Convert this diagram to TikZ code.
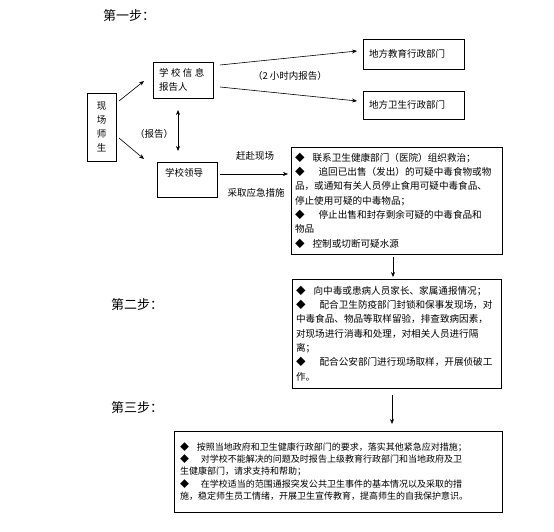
\documentclass[tikz,border=0pt]{standalone}
\usepackage{fontspec}
\newfontfamily\cjk{Noto Sans CJK SC}
\usetikzlibrary{arrows.meta}
\begin{document}
\begin{tikzpicture}[x=1pt,y=-1pt,
  every node/.style={font=\cjk\fontsize{9.5}{14}\selectfont},
  box/.style={draw,line width=0.8pt,inner xsep=6pt,inner ysep=0pt,align=left},
  bigbox/.style={draw,line width=0.8pt,inner xsep=4pt,inner ysep=0pt,align=left,font=\cjk\fontsize{9.6}{14.3}\selectfont},
  steplabel/.style={font=\cjk\fontsize{13}{15}\selectfont,anchor=west,inner sep=0pt},
  lbl/.style={inner sep=0pt},
  arr/.style={-{Stealth[length=5pt,width=4pt]},line width=0.6pt},
  darr/.style={{Stealth[length=5pt,width=4pt]}-{Stealth[length=5pt,width=4pt]},line width=0.6pt}]
\useasboundingbox (0,0) rectangle (554,532);

% step labels
\node[steplabel] (s1) at (103,16) {第一步：};
\node[steplabel] (s2) at (111,305) {第二步：};
\node[steplabel] (s3) at (111,408) {第三步：};

% small boxes
\node[box,minimum width=29pt,minimum height=68pt,inner xsep=0pt,align=center] (scene) at (101.5,127) {现\\场\\师\\生};
\node[box,minimum width=60pt,minimum height=36pt,text width=48pt] (info) at (183,80) {学\kern2.5pt 校\kern2.5pt 信\kern2.5pt 息\\报告人};
\node[box,minimum width=60pt,minimum height=35pt,text width=52pt,inner xsep=4pt] (lead) at (187,179.5) {\kern4pt 学校领导\\\mbox{}};
\node[box,minimum width=101pt,minimum height=30pt,text width=89pt] (edu) at (413.5,54) {地方教育行政部门};
\node[box,minimum width=101pt,minimum height=28pt,text width=89pt] (health) at (413.5,105) {地方卫生行政部门};

% big boxes
\node[bigbox,minimum height=107pt,text width=203pt] (b1) at (396.5,200.5) {%
◆\kern8pt 联系卫生健康部门（医院）组织救治；\\
◆\kern14pt 追回已出售（发出）的可疑中毒食物或物\\
品，或通知有关人员停止食用可疑中毒食品、\\
停止使用可疑的中毒物品；\\
◆\kern14pt 停止出售和封存剩余可疑的中毒食品和\\
物品\\
◆\kern8pt 控制或切断可疑水源};

\node[bigbox,minimum height=109pt,text width=201pt] (b2) at (396.5,333.5) {%
◆\kern8pt 向中毒或患病人员家长、家属通报情况；\\
◆\kern14pt 配合卫生防疫部门封锁和保事发现场，对\\
中毒食品、物品等取样留验，排查致病因素，\\
对现场进行消毒和处理，对相关人员进行隔\\
离；\\
◆\kern14pt 配合公安部门进行现场取样，开展侦破工\\
作。};

\node[bigbox,minimum height=81pt,text width=316pt,inner xsep=6pt,font=\cjk\fontsize{9}{12.3}\selectfont] (b3) at (338,471.5) {%
◆\kern8pt 按照当地政府和卫生健康行政部门的要求，落实其他紧急应对措施；\\
◆\kern12pt 对学校不能解决的问题及时报告上级教育行政部门和当地政府及卫\\
生健康部门，请求支持和帮助；\\
◆\kern12pt 在学校适当的范围通报突发公共卫生事件的基本情况以及采取的措\\
施，稳定师生员工情绪，开展卫生宣传教育，提高师生的自我保护意识。};

% arrow endpoints
\coordinate (a1s) at (119,101); \coordinate (a1e) at (144,81);
\coordinate (a2s) at (119,138); \coordinate (a2e) at (144,159);
\coordinate (a3s) at (220,65);  \coordinate (a3e) at (357,51);
\coordinate (a4s) at (220,87);  \coordinate (a4e) at (357,101);
\coordinate (a5s) at (178,110); \coordinate (a5e) at (178,151);
\coordinate (a6s) at (220,174); \coordinate (a6e) at (288,174);
\coordinate (a7s) at (393,257); \coordinate (a7e) at (393,277);
\coordinate (a8s) at (392,395); \coordinate (a8e) at (392,424);

\draw[arr] (a1s) -- (a1e);
\draw[arr] (a2s) -- (a2e);
\draw[arr] (a3s) -- (a3e);
\draw[arr] (a4s) -- (a4e);
\draw[darr] (a5s) -- (a5e);
\draw[arr] (a6s) -- (a6e);
\draw[arr] (a7s) -- (a7e);
\draw[arr] (a8s) -- (a8e);

% labels
\node[lbl] (l1) at (290,76) {（2\kern2pt 小时内报告）};
\node[lbl] (l2) at (154,134) {（报告）};
\node[lbl] (l3) at (255,156) {赶赴现场};
\node[lbl] (l4) at (256,193) {采取应急措施};
\end{tikzpicture}
\end{document}
